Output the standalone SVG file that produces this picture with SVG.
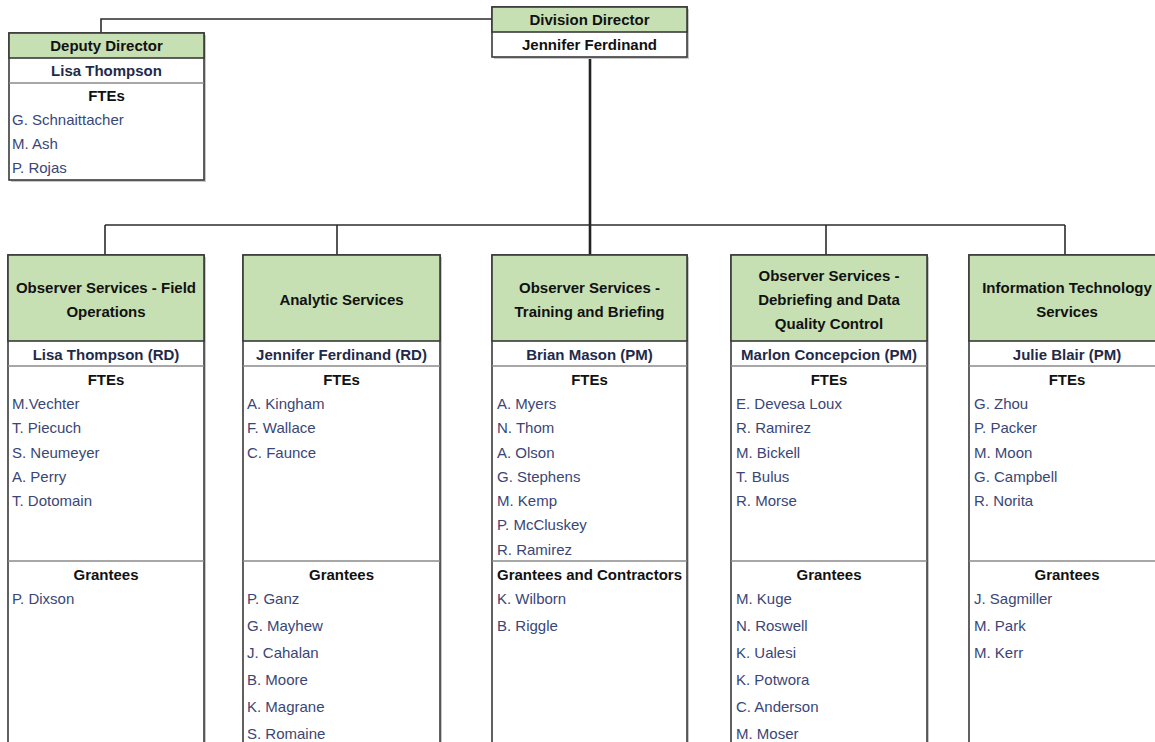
<svg xmlns="http://www.w3.org/2000/svg" width="1155" height="742" viewBox="0 0 1155 742">
<style>
.box{fill:#fff;stroke:#3a3a3a;stroke-width:1.6}
.shadow{fill:#c8c8c8}
.hdr{fill:#c6e0b4;stroke:#3a3a3a;stroke-width:1.6}
.div{stroke:#8a8a8a;stroke-width:1.6}
.conn{stroke:#2b2b2b;stroke-width:1.6;fill:none}
.main{stroke:#222;stroke-width:2.6;fill:none}
text{font-family:"Liberation Sans","Open Sans",Arial,sans-serif}
.h{font-size:15px;font-weight:bold;fill:#111;text-anchor:middle}
.mgr{font-size:15px;font-weight:bold;fill:#1f2a4a;text-anchor:middle}
.sec{font-size:15px;font-weight:bold;fill:#111;text-anchor:middle}
.n{font-size:15px;fill:#3a4676}
</style>
<rect width="1155" height="742" fill="#fff"/>
<g id="connectors">
<polyline class="conn" points="492,19 101,19 101,33"/>
<line class="main" x1="590" y1="57" x2="590" y2="255"/>
<line class="conn" x1="105" y1="225" x2="1065" y2="225"/>
<line class="conn" x1="105" y1="225" x2="105" y2="255"/>
<line class="conn" x1="337" y1="225" x2="337" y2="255"/>
<line class="conn" x1="826" y1="225" x2="826" y2="255"/>
<line class="conn" x1="1065" y1="225" x2="1065" y2="255"/>
</g>
<g id="division-director">
<rect class="shadow" x="494" y="9" width="195" height="50"/>
<rect class="box" x="492" y="7" width="195" height="50"/>
<rect class="hdr" x="492" y="7" width="195" height="25"/>
<text class="h" x="589.5" y="25">Division Director</text>
<text class="h" x="589.5" y="50">Jennifer Ferdinand</text>
</g>
<g id="deputy-director">
<rect class="shadow" x="11" y="35" width="195" height="147"/>
<rect class="box" x="9" y="33" width="195" height="147"/>
<rect class="hdr" x="9" y="33" width="195" height="25"/>
<line class="div" x1="9" y1="83" x2="204" y2="83"/>
<text class="h" x="106.5" y="51">Deputy Director</text>
<text class="mgr" x="106.5" y="76">Lisa Thompson</text>
<text class="sec" x="106.5" y="101">FTEs</text>
<text class="n" x="12" y="125">G. Schnaittacher</text>
<text class="n" x="12" y="149">M. Ash</text>
<text class="n" x="12" y="173">P. Rojas</text>
</g>
<g id="field-operations">
<rect class="shadow" x="10" y="257" width="196" height="500"/>
<rect class="box" x="8" y="255" width="196" height="500"/>
<rect class="hdr" x="8" y="255" width="196" height="86"/>
<line class="div" x1="8" y1="366" x2="204" y2="366"/>
<line class="div" x1="8" y1="561" x2="204" y2="561"/>
<text class="h" x="106" y="293">Observer Services - Field</text>
<text class="h" x="106" y="317">Operations</text>
<text class="mgr" x="106" y="360">Lisa Thompson (RD)</text>
<text class="sec" x="106" y="385">FTEs</text>
<text class="n" x="12" y="409">M.Vechter</text>
<text class="n" x="12" y="433">T. Piecuch</text>
<text class="n" x="12" y="458">S. Neumeyer</text>
<text class="n" x="12" y="482">A. Perry</text>
<text class="n" x="12" y="506">T. Dotomain</text>
<text class="sec" x="106" y="580">Grantees</text>
<text class="n" x="12" y="604">P. Dixson</text>
</g>
<g id="analytic-services">
<rect class="shadow" x="245" y="257" width="197" height="500"/>
<rect class="box" x="243" y="255" width="197" height="500"/>
<rect class="hdr" x="243" y="255" width="197" height="86"/>
<line class="div" x1="243" y1="366" x2="440" y2="366"/>
<line class="div" x1="243" y1="561" x2="440" y2="561"/>
<text class="h" x="341.5" y="305">Analytic Services</text>
<text class="mgr" x="341.5" y="360">Jennifer Ferdinand (RD)</text>
<text class="sec" x="341.5" y="385">FTEs</text>
<text class="n" x="247" y="409">A. Kingham</text>
<text class="n" x="247" y="433">F. Wallace</text>
<text class="n" x="247" y="458">C. Faunce</text>
<text class="sec" x="341.5" y="580">Grantees</text>
<text class="n" x="247" y="604">P. Ganz</text>
<text class="n" x="247" y="631">G. Mayhew</text>
<text class="n" x="247" y="658">J. Cahalan</text>
<text class="n" x="247" y="685">B. Moore</text>
<text class="n" x="247" y="712">K. Magrane</text>
<text class="n" x="247" y="739">S. Romaine</text>
</g>
<g id="training-briefing">
<rect class="shadow" x="494" y="257" width="195" height="500"/>
<rect class="box" x="492" y="255" width="195" height="500"/>
<rect class="hdr" x="492" y="255" width="195" height="86"/>
<line class="div" x1="492" y1="366" x2="687" y2="366"/>
<line class="div" x1="492" y1="561" x2="687" y2="561"/>
<text class="h" x="589.5" y="293">Observer Services -</text>
<text class="h" x="589.5" y="317">Training and Briefing</text>
<text class="mgr" x="589.5" y="360">Brian Mason (PM)</text>
<text class="sec" x="589.5" y="385">FTEs</text>
<text class="n" x="497" y="409">A. Myers</text>
<text class="n" x="497" y="433">N. Thom</text>
<text class="n" x="497" y="458">A. Olson</text>
<text class="n" x="497" y="482">G. Stephens</text>
<text class="n" x="497" y="506">M. Kemp</text>
<text class="n" x="497" y="530">P. McCluskey</text>
<text class="n" x="497" y="555">R. Ramirez</text>
<text class="sec" x="589.5" y="580" font-size="14.7">Grantees and Contractors</text>
<text class="n" x="497" y="604">K. Wilborn</text>
<text class="n" x="497" y="631">B. Riggle</text>
</g>
<g id="debriefing-data">
<rect class="shadow" x="733" y="257" width="196" height="500"/>
<rect class="box" x="731" y="255" width="196" height="500"/>
<rect class="hdr" x="731" y="255" width="196" height="86"/>
<line class="div" x1="731" y1="366" x2="927" y2="366"/>
<line class="div" x1="731" y1="561" x2="927" y2="561"/>
<text class="h" x="829" y="281">Observer Services -</text>
<text class="h" x="829" y="305">Debriefing and Data</text>
<text class="h" x="829" y="329">Quality Control</text>
<text class="mgr" x="829" y="360">Marlon Concepcion (PM)</text>
<text class="sec" x="829" y="385">FTEs</text>
<text class="n" x="736" y="409">E. Devesa Loux</text>
<text class="n" x="736" y="433">R. Ramirez</text>
<text class="n" x="736" y="458">M. Bickell</text>
<text class="n" x="736" y="482">T. Bulus</text>
<text class="n" x="736" y="506">R. Morse</text>
<text class="sec" x="829" y="580">Grantees</text>
<text class="n" x="736" y="604">M. Kuge</text>
<text class="n" x="736" y="631">N. Roswell</text>
<text class="n" x="736" y="658">K. Ualesi</text>
<text class="n" x="736" y="685">K. Potwora</text>
<text class="n" x="736" y="712">C. Anderson</text>
<text class="n" x="736" y="739">M. Moser</text>
</g>
<g id="it-services">
<rect class="shadow" x="971" y="257" width="196" height="500"/>
<rect class="box" x="969" y="255" width="196" height="500"/>
<rect class="hdr" x="969" y="255" width="196" height="86"/>
<line class="div" x1="969" y1="366" x2="1165" y2="366"/>
<line class="div" x1="969" y1="561" x2="1165" y2="561"/>
<text class="h" x="1067" y="293">Information Technology</text>
<text class="h" x="1067" y="317">Services</text>
<text class="mgr" x="1067" y="360">Julie Blair (PM)</text>
<text class="sec" x="1067" y="385">FTEs</text>
<text class="n" x="974" y="409">G. Zhou</text>
<text class="n" x="974" y="433">P. Packer</text>
<text class="n" x="974" y="458">M. Moon</text>
<text class="n" x="974" y="482">G. Campbell</text>
<text class="n" x="974" y="506">R. Norita</text>
<text class="sec" x="1067" y="580">Grantees</text>
<text class="n" x="974" y="604">J. Sagmiller</text>
<text class="n" x="974" y="631">M. Park</text>
<text class="n" x="974" y="658">M. Kerr</text>
</g>
</svg>
